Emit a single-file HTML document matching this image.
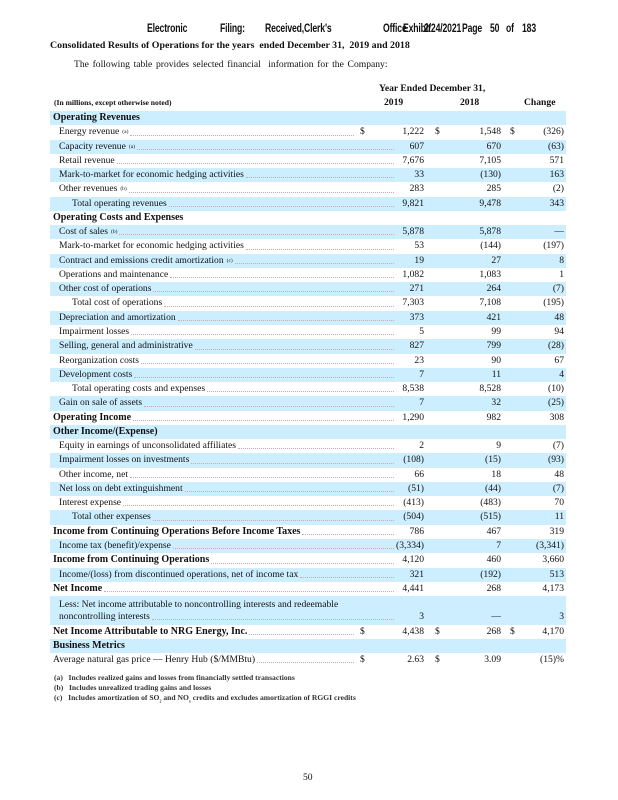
<!DOCTYPE html>
<html><head><meta charset="utf-8"><style>
*{margin:0;padding:0;box-sizing:border-box}
body{width:618px;height:800px;background:#fff;position:relative;overflow:hidden;font-family:"Liberation Serif",serif;color:#111}
.a{position:absolute;white-space:nowrap}
.hd{font-family:"Liberation Sans",sans-serif;font-size:12px;font-weight:bold;top:21px;transform:scaleX(0.72);transform-origin:left center;letter-spacing:-0.2px}
#t{position:absolute;left:50px;top:111px;width:516px}
.r{position:relative;height:14.28px;font-size:9.6px;line-height:14.28px}
.r2{height:28.56px}
.s{background:#cceeff}
.l{position:absolute;left:9px;right:170px;top:0;display:flex;white-space:nowrap}
.l.h{left:3px;font-weight:bold;font-size:10px}
.l.t{left:22px}
.l.dl{right:210px}
.dots{flex:1;border-bottom:1px dotted #c9a9b0;margin:0 2px 4px 2px;min-width:0}
.v{position:absolute;white-space:nowrap;text-align:right;top:0}
.v1{right:142px}.v2{right:65px}.v3{right:2px}
.d{position:absolute;top:0}
.d1{left:310px}.d2{left:385px}.d3{left:460px}
sup{font-size:5.5px;vertical-align:4px;margin-left:3px}
.fn{font-size:7.6px;left:54px;font-weight:bold;color:#333}
</style></head><body>
<div class="a hd" style="left:147px">Electronic</div>
<div class="a hd" style="left:220px">Filing:</div>
<div class="a hd" style="left:265px">Received,Clerk's</div>
<div class="a hd" style="left:383px">Office</div>
<div class="a hd" style="left:403px">Exhibit</div>
<div class="a hd" style="left:424px">2/24/2021</div>
<div class="a hd" style="left:462px">Page</div>
<div class="a hd" style="left:490px">50</div>
<div class="a hd" style="left:506px">of</div>
<div class="a hd" style="left:522px">183</div>
<div class="a" style="left:50px;top:40px;font-size:9.9px;font-weight:bold">Consolidated Results of Operations for the years&nbsp; ended December 31,&nbsp; 2019 and 2018</div>
<div class="a" style="left:74px;top:59px;font-size:9.6px;word-spacing:1.3px">The following table provides selected financial&nbsp; information for the Company:</div>
<div class="a" style="left:379px;top:83px;font-size:9.6px;font-weight:bold">Year Ended December 31,</div>
<div class="a" style="left:54px;top:98px;font-size:7.6px;font-weight:bold">(In millions, except otherwise noted)</div>
<div class="a" style="left:384px;top:97px;font-size:9.6px;font-weight:bold">2019</div>
<div class="a" style="left:460px;top:97px;font-size:9.6px;font-weight:bold">2018</div>
<div class="a" style="left:524px;top:97px;font-size:9.6px;font-weight:bold">Change</div>
<div id="t">
<div class="r s"><div class="l h">Operating Revenues</div></div>
<div class="r"><div class="l dl">Energy revenue<sup>(a)</sup><span class="dots"></span></div><span class="d d1">$</span><span class="v v1">1,222</span><span class="d d2">$</span><span class="v v2">1,548</span><span class="d d3">$</span><span class="v v3">(326)</span></div>
<div class="r s"><div class="l">Capacity revenue<sup>(a)</sup><span class="dots"></span></div><span class="v v1">607</span><span class="v v2">670</span><span class="v v3">(63)</span></div>
<div class="r"><div class="l">Retail revenue<span class="dots"></span></div><span class="v v1">7,676</span><span class="v v2">7,105</span><span class="v v3">571</span></div>
<div class="r s"><div class="l">Mark-to-market for economic hedging activities<span class="dots"></span></div><span class="v v1">33</span><span class="v v2">(130)</span><span class="v v3">163</span></div>
<div class="r"><div class="l">Other revenues<sup>(b)</sup><span class="dots"></span></div><span class="v v1">283</span><span class="v v2">285</span><span class="v v3">(2)</span></div>
<div class="r s"><div class="l t">Total operating revenues<span class="dots"></span></div><span class="v v1">9,821</span><span class="v v2">9,478</span><span class="v v3">343</span></div>
<div class="r"><div class="l h">Operating Costs and Expenses</div></div>
<div class="r s"><div class="l">Cost of sales<sup>(b)</sup><span class="dots"></span></div><span class="v v1">5,878</span><span class="v v2">5,878</span><span class="v v3">—</span></div>
<div class="r"><div class="l">Mark-to-market for economic hedging activities<span class="dots"></span></div><span class="v v1">53</span><span class="v v2">(144)</span><span class="v v3">(197)</span></div>
<div class="r s"><div class="l">Contract and emissions credit amortization<sup>(c)</sup><span class="dots"></span></div><span class="v v1">19</span><span class="v v2">27</span><span class="v v3">8</span></div>
<div class="r"><div class="l">Operations and maintenance<span class="dots"></span></div><span class="v v1">1,082</span><span class="v v2">1,083</span><span class="v v3">1</span></div>
<div class="r s"><div class="l">Other cost of operations<span class="dots"></span></div><span class="v v1">271</span><span class="v v2">264</span><span class="v v3">(7)</span></div>
<div class="r"><div class="l t">Total cost of operations<span class="dots"></span></div><span class="v v1">7,303</span><span class="v v2">7,108</span><span class="v v3">(195)</span></div>
<div class="r s"><div class="l">Depreciation and amortization<span class="dots"></span></div><span class="v v1">373</span><span class="v v2">421</span><span class="v v3">48</span></div>
<div class="r"><div class="l">Impairment losses<span class="dots"></span></div><span class="v v1">5</span><span class="v v2">99</span><span class="v v3">94</span></div>
<div class="r s"><div class="l">Selling, general and administrative<span class="dots"></span></div><span class="v v1">827</span><span class="v v2">799</span><span class="v v3">(28)</span></div>
<div class="r"><div class="l">Reorganization costs<span class="dots"></span></div><span class="v v1">23</span><span class="v v2">90</span><span class="v v3">67</span></div>
<div class="r s"><div class="l">Development costs<span class="dots"></span></div><span class="v v1">7</span><span class="v v2">11</span><span class="v v3">4</span></div>
<div class="r"><div class="l t">Total operating costs and expenses<span class="dots"></span></div><span class="v v1">8,538</span><span class="v v2">8,528</span><span class="v v3">(10)</span></div>
<div class="r s"><div class="l">Gain on sale of assets<span class="dots"></span></div><span class="v v1">7</span><span class="v v2">32</span><span class="v v3">(25)</span></div>
<div class="r"><div class="l h">Operating Income<span class="dots"></span></div><span class="v v1">1,290</span><span class="v v2">982</span><span class="v v3">308</span></div>
<div class="r s"><div class="l h">Other Income/(Expense)</div></div>
<div class="r"><div class="l">Equity in earnings of unconsolidated affiliates<span class="dots"></span></div><span class="v v1">2</span><span class="v v2">9</span><span class="v v3">(7)</span></div>
<div class="r s"><div class="l">Impairment losses on investments<span class="dots"></span></div><span class="v v1">(108)</span><span class="v v2">(15)</span><span class="v v3">(93)</span></div>
<div class="r"><div class="l">Other income, net<span class="dots"></span></div><span class="v v1">66</span><span class="v v2">18</span><span class="v v3">48</span></div>
<div class="r s"><div class="l">Net loss on debt extinguishment<span class="dots"></span></div><span class="v v1">(51)</span><span class="v v2">(44)</span><span class="v v3">(7)</span></div>
<div class="r"><div class="l">Interest expense<span class="dots"></span></div><span class="v v1">(413)</span><span class="v v2">(483)</span><span class="v v3">70</span></div>
<div class="r s"><div class="l t">Total other expenses<span class="dots"></span></div><span class="v v1">(504)</span><span class="v v2">(515)</span><span class="v v3">11</span></div>
<div class="r"><div class="l h">Income from Continuing Operations Before Income Taxes<span class="dots"></span></div><span class="v v1">786</span><span class="v v2">467</span><span class="v v3">319</span></div>
<div class="r s"><div class="l">Income tax (benefit)/expense<span class="dots"></span></div><span class="v v1">(3,334)</span><span class="v v2">7</span><span class="v v3">(3,341)</span></div>
<div class="r"><div class="l h">Income from Continuing Operations<span class="dots"></span></div><span class="v v1">4,120</span><span class="v v2">460</span><span class="v v3">3,660</span></div>
<div class="r s"><div class="l">Income/(loss) from discontinued operations, net of income tax<span class="dots"></span></div><span class="v v1">321</span><span class="v v2">(192)</span><span class="v v3">513</span></div>
<div class="r"><div class="l h">Net Income<span class="dots"></span></div><span class="v v1">4,441</span><span class="v v2">268</span><span class="v v3">4,173</span></div>
<div class="r r2 s"><div class="l" style="line-height:11px;top:3px">Less: Net income attributable to noncontrolling interests and redeemable</div><div class="l" style="top:14px">noncontrolling interests<span class="dots"></span></div><span class="v v1" style="top:14px">3</span><span class="v v2" style="top:14px">—</span><span class="v v3" style="top:14px">3</span></div>
<div class="r"><div class="l h dl">Net Income Attributable to NRG Energy, Inc.<span class="dots"></span></div><span class="d d1">$</span><span class="v v1">4,438</span><span class="d d2">$</span><span class="v v2">268</span><span class="d d3">$</span><span class="v v3">4,170</span></div>
<div class="r s"><div class="l h">Business Metrics</div></div>
<div class="r"><div class="l dl" style="left:3px">Average natural gas price — Henry Hub ($/MMBtu)<span class="dots"></span></div><span class="d d1">$</span><span class="v v1">2.63</span><span class="d d2">$</span><span class="v v2">3.09</span><span class="v v3">(15)%</span></div>
</div>
<div class="a fn" style="top:673px">(a)&nbsp;&nbsp; Includes realized gains and losses from financially settled transactions</div>
<div class="a fn" style="top:683px">(b)&nbsp;&nbsp; Includes unrealized trading gains and losses</div>
<div class="a fn" style="top:693px">(c)&nbsp;&nbsp; Includes amortization of SO<sub style="font-size:4px">2</sub> and NO<sub style="font-size:4px">x</sub> credits and excludes amortization of RGGI credits</div>
<div class="a" style="left:303px;top:772px;font-size:9.6px">50</div>
</body></html>
